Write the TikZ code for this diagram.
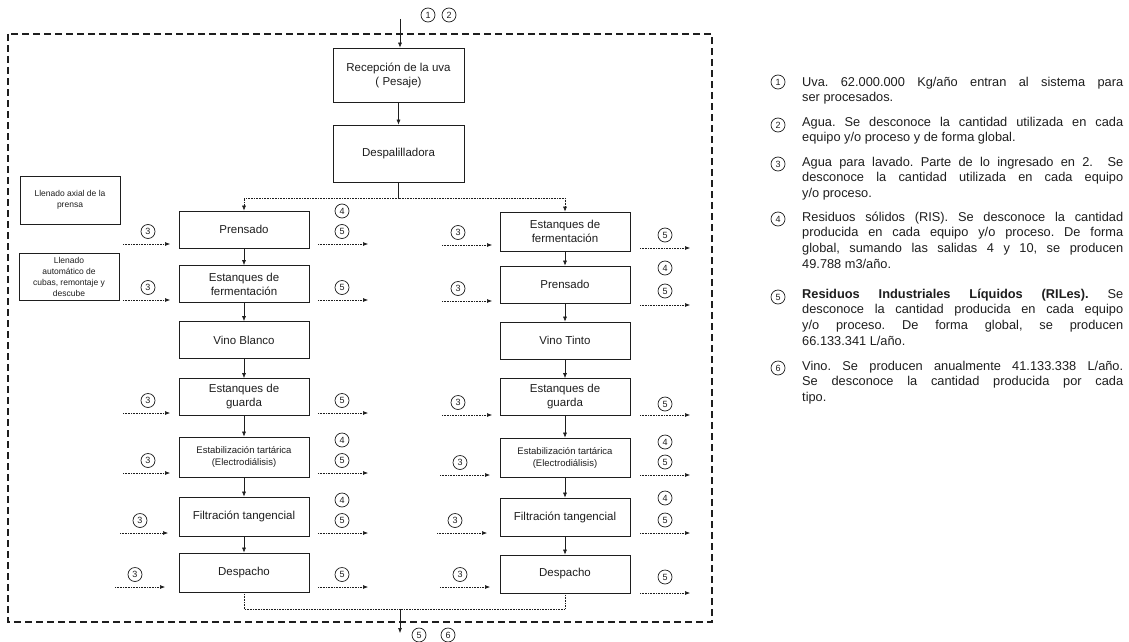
\documentclass[tikz,border=0pt]{standalone}
\usepackage{fontspec}
\setmainfont{Liberation Sans}
\usetikzlibrary{arrows.meta}
\definecolor{ink}{HTML}{1E1E1E}
\frenchspacing
\begin{document}
\begin{tikzpicture}[x=1pt,y=-1pt,
  box/.style={draw=ink, line width=0.7pt, fill=white, minimum width=130pt, minimum height=37pt,
    align=center, inner sep=2pt, text=ink, font=\fontsize{11.5}{14}\selectfont},
  smallbox/.style={box, font=\fontsize{9.5}{12}\selectfont},
  notebox/.style={box, minimum width=100pt, minimum height=48pt, inner sep=1pt, font=\fontsize{8.5}{11}\selectfont},
  num/.style={circle, draw=ink, line width=0.7pt, minimum size=14pt, inner sep=0pt, text=ink,
    font=\fontsize{9}{9}\selectfont},
  flow/.style={draw=ink, line width=0.6pt, -{Latex[length=5pt,width=4pt]}},
  link/.style={draw=ink, line width=0.6pt, densely dotted},
  side/.style={draw=ink, line width=0.6pt, densely dotted, -{Latex[length=5pt,width=4pt]}},
  frame/.style={draw=ink, line width=1.2pt, dash pattern=on 7pt off 4pt},
  legtext/.style={anchor=base west, text width=321pt, align=justify, inner sep=0pt, text=ink,
    font=\fontsize{12.8}{15.7}\selectfont}
]
\useasboundingbox (0,0) rectangle (1129,642);
\fill[white] (0,0) rectangle (1129,642);

% dashed system boundary
\draw[frame] (8,34) rectangle (712,622);

% top nodes
\node[box, minimum width=131pt, minimum height=54pt] (rec) at (398.5,75) {Recepción de la uva\\( Pesaje)};
\node[box, minimum width=131pt, minimum height=57pt] (desp) at (398.5,153.5) {Despalilladora};

% left column
\node[box] (L1) at (244,229.5) {Prensado};
\node[box] (L2) at (244,284) {Estanques de\\fermentación};
\node[box] (L3) at (244,340) {Vino Blanco};
\node[box] (L4) at (244,397) {Estanques de\\guarda};
\node[smallbox, minimum height=40pt] (L5) at (244,457) {Estabilización tartárica\\(Electrodiálisis)};
\node[box, minimum height=39pt] (L6) at (244,516.5) {Filtración tangencial};
\node[box, minimum height=39pt] (L7) at (244,572.5) {Despacho};

% right column
\node[box, minimum height=39pt] (R1) at (565,231.5) {Estanques de\\fermentación};
\node[box] (R2) at (565,284.5) {Prensado};
\node[box] (R3) at (565,340.5) {Vino Tinto};
\node[box] (R4) at (565,397) {Estanques de\\guarda};
\node[smallbox, minimum height=39pt] (R5) at (565,457.5) {Estabilización tartárica\\(Electrodiálisis)};
\node[box, minimum height=38pt] (R6) at (565,517) {Filtración tangencial};
\node[box, minimum height=38pt] (R7) at (565,574) {Despacho};

% side notes
\node[notebox] (nA) at (70,200) {Llenado axial de la\\prensa};
\node[notebox, minimum height=47pt] (nB) at (69,276.5) {Llenado\\automático de\\cubas, remontaje y\\descube};

% main input
\coordinate (top) at (400,19);
\draw[flow] (top) -- (rec.north -| top);
\node[num] (i1) at (428,15) {1};
\node[num] (i2) at (449,15) {2};

\draw[flow] (rec) -- (desp);
\coordinate (split) at (398.5,198);
\draw[draw=ink, line width=0.6pt] (desp.south) -- (split);
\draw[link, -{Latex[length=5pt,width=4pt]}] (split) -| (L1.north);
\draw[link, -{Latex[length=5pt,width=4pt]}] (split) -| (R1.north);

% vertical flows
\foreach \a/\b in {L1/L2,L2/L3,L3/L4,L4/L5,L5/L6,L6/L7,R1/R2,R2/R3,R3/R4,R4/R5,R5/R6,R6/R7}
  \draw[flow] (\a) -- (\b);

% merge and final output
\coordinate (merge) at (400,609);
\coordinate (out) at (400,633);
\draw[link] (L7.south) |- (merge);
\draw[link] (R7.south) |- (merge);
\draw[flow] (merge) -- (out);
\node[num] (o5) at (419,635) {5};
\node[num] (o6) at (448,635) {6};

% left column inputs (water 3)
\foreach \n/\xa/\xb/\xl/\y in {1/123/170/148/244, 2/123/170/148/300, 4/123/170/148/413,
    5/123/170/148/473, 6/120/168/140/533, 7/115/165/135/587} {
  \coordinate (ls\n) at (\xa,\y);
  \coordinate (le\n) at (\xb,\y);
  \draw[side] (ls\n) -- (le\n);
  \node[num] (lw\n) at (\xl,\y-12.5) {3};
}
% left column outputs (5, and 4)
\foreach \n/\y in {1/244, 2/300, 4/413, 5/473, 6/533, 7/587} {
  \coordinate (los\n) at (318,\y);
  \coordinate (loe\n) at (368,\y);
  \draw[side] (los\n) -- (loe\n);
  \node[num] (lr\n) at (342,\y-12.5) {5};
}
\foreach \n/\y in {1/244, 5/473, 6/533}
  \node[num] (ls4\n) at (342,\y-33) {4};

% right column inputs
\foreach \n/\xa/\xb/\xl/\y in {1/442/492/458/245, 2/442/492/458/301, 4/442/492/458/415,
    5/440/490/460/475, 6/437/487/455/533, 7/440/490/460/587} {
  \coordinate (rs\n) at (\xa,\y);
  \coordinate (re\n) at (\xb,\y);
  \draw[side] (rs\n) -- (re\n);
  \node[num] (rw\n) at (\xl,\y-12.5) {3};
}
% right column outputs
\foreach \n/\y/\dy in {1/248/13, 2/305/14, 4/415/11, 5/475/13, 6/533/13, 7/593/16} {
  \coordinate (ros\n) at (640,\y);
  \coordinate (roe\n) at (690,\y);
  \draw[side] (ros\n) -- (roe\n);
  \node[num] (rr\n) at (665,\y-\dy) {5};
}
\foreach \n/\y in {2/268, 5/442, 6/498}
  \node[num] (rs4\n) at (665,\y) {4};

% legend
\node[num] (k1) at (778,82) {1};
\node[legtext] (t1) at (802,86) {Uva. 62.000.000 Kg/año entran al sistema para\linebreak ser procesados.};
\node[num] (k2) at (778,125) {2};
\node[legtext] (t2) at (802,126) {Agua. Se desconoce la cantidad utilizada en cada\linebreak equipo y/o proceso y de forma global.};
\node[num] (k3) at (778,164) {3};
\node[legtext] (t3) at (802,166) {Agua para lavado. Parte de lo ingresado en 2.\ \ Se\linebreak desconoce la cantidad utilizada en cada equipo\linebreak y/o proceso.};
\node[num] (k4) at (778,219) {4};
\node[legtext] (t4) at (802,221) {Residuos sólidos (RIS). Se desconoce la cantidad\linebreak producida en cada equipo y/o proceso. De forma\linebreak global, sumando las salidas 4 y 10, se producen\linebreak 49.788 m3/año.};
\node[num] (k5) at (778,297) {5};
\node[legtext] (t5) at (802,298) {\textbf{Residuos Industriales Líquidos (RILes).} Se\linebreak desconoce la cantidad producida en cada equipo\linebreak y/o proceso. De forma global, se producen\linebreak 66.133.341 L/año.};
\node[num] (k6) at (778,368) {6};
\node[legtext] (t6) at (802,370) {Vino. Se producen anualmente 41.133.338 L/año.\linebreak Se desconoce la cantidad producida por cada\linebreak tipo.};
\end{tikzpicture}
\end{document}
